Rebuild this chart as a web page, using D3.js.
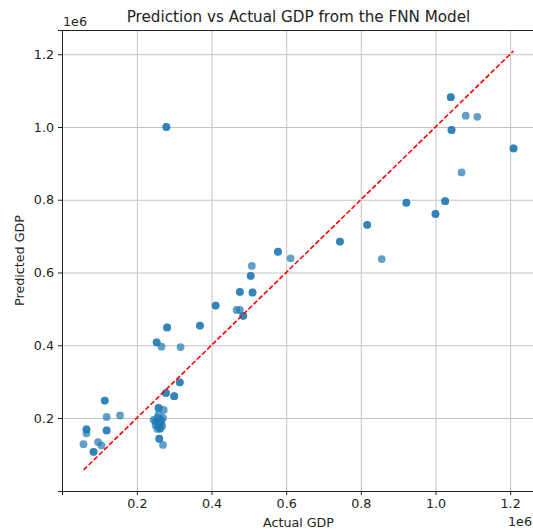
<!DOCTYPE html>
<html>
<head>
<meta charset="utf-8">
<script src="https://cdn.jsdelivr.net/npm/d3@7"></script>
<style>
  body { margin: 0; background: #fff; }
  svg { font-family: 'DejaVu Sans', sans-serif; }
</style>
</head>
<body>
<div></div>
<script>
var actual = [
  279000, 279000, 1041000, 1041000, 1081000, 1112000, 1043000, 1043000, 1209000, 1209000,
  1070000, 922000, 922000, 1026000, 1026000, 1000000, 1000000, 856000, 817000, 817000,
  744000, 744000, 578000, 578000, 612000, 508000, 505000, 505000, 476000, 476000,
  510000, 510000, 411000, 411000, 467000, 476000, 485000, 485000, 369000, 369000,
  281000, 281000, 253000, 253000, 266000, 317000, 315000, 315000, 278000, 278000,
  300000, 300000, 258000, 258000, 272000, 262000, 262000, 260000, 260000, 270000,
  114000, 114000, 119000, 155000, 65000, 65000, 65000, 119000, 119000, 57000,
  96000, 105000, 84000, 84000,
  245000, 250000, 255000, 260000, 265000, 270000, 260000, 250000, 255000, 265000, 258000, 268000
];
var predicted = [
  1000000, 1000000, 1082000, 1082000, 1031000, 1028000, 992000, 992000, 941000, 941000,
  875000, 792000, 792000, 796000, 796000, 761000, 761000, 637000, 731000, 731000,
  685000, 685000, 657000, 657000, 639000, 618000, 591000, 591000, 547000, 547000,
  545000, 545000, 509000, 509000, 497000, 497000, 481000, 481000, 454000, 454000,
  449000, 449000, 408000, 408000, 396000, 395000, 298000, 298000, 269000, 269000,
  260000, 260000, 228000, 228000, 222000, 171000, 171000, 143000, 143000, 126000,
  248000, 248000, 203000, 207000, 169000, 169000, 158000, 166000, 166000, 128000,
  134000, 125000, 107000, 107000,
  195000, 190000, 200000, 185000, 195000, 200000, 175000, 180000, 170000, 185000, 210000, 178000
];
var xTicks = [200000, 400000, 600000, 800000, 1000000, 1200000];
var yTicks = [200000, 400000, 600000, 800000, 1000000, 1200000];

var w = 533
var h = 530
var left = 62
var right = 535
var top_ = 30
var bottom = 491
var fs = '12.7px'

var svg = d3.select('div')
    .append('svg')
    .attr('width', w)
    .attr('height', h);

// limites como matplotlib: linea ideal + 5% de margen
var lineExt = d3.extent(actual);
var lo = Math.min(lineExt[0], d3.min(predicted));
var hi = Math.max(lineExt[1], d3.max(predicted));
var pad = (hi - lo) * 0.05;

var scaleX = d3.scaleLinear()
    .domain([lineExt[0] - (lineExt[1] - lineExt[0]) * 0.05, lineExt[1] + (lineExt[1] - lineExt[0]) * 0.05])
    .range([left, right]);
var scaleY = d3.scaleLinear()
    .domain([lo - pad, hi + pad])
    .range([bottom, top_]);

var fmt = (d) => (d / 1e6).toFixed(1);

// rejilla
svg.append('g')
    .attr('transform', 'translate(0,' + bottom + ')')
    .call(d3.axisBottom(scaleX).tickValues(xTicks).tickSize(-(bottom - top_)).tickFormat(''))
    .call(g => g.select('.domain').remove())
    .selectAll('line').attr('stroke', '#c4c4c4').attr('stroke-width', 1);
svg.append('g')
    .attr('transform', 'translate(' + left + ',0)')
    .call(d3.axisLeft(scaleY).tickValues(yTicks).tickSize(-(right - left)).tickFormat(''))
    .call(g => g.select('.domain').remove())
    .selectAll('line').attr('stroke', '#c4c4c4').attr('stroke-width', 1);

// puntos
var pts = actual.map((a, i) => ({ a: a, p: predicted[i] }));
svg.append('g')
    .selectAll('circle')
    .data(pts)
    .enter()
    .append('circle')
    .attr('cx', (d) => scaleX(d.a))
    .attr('cy', (d) => scaleY(d.p))
    .attr('r', 3.9)
    .attr('fill', '#1f77b4')
    .attr('fill-opacity', 0.7);

// linea ideal y = x
svg.append('line')
    .attr('x1', scaleX(lineExt[0]))
    .attr('y1', scaleY(lineExt[0]))
    .attr('x2', scaleX(lineExt[1]))
    .attr('y2', scaleY(lineExt[1]))
    .attr('stroke', 'red')
    .attr('stroke-width', 1.6)
    .attr('stroke-dasharray', '5,2.2');

// ejes
var xaxis = svg.append('g')
    .attr('transform', 'translate(0,' + bottom + ')')
    .call(d3.axisBottom(scaleX).tickValues(xTicks).tickSize(4).tickPadding(4).tickFormat(fmt));
var yaxis = svg.append('g')
    .attr('transform', 'translate(' + left + ',0)')
    .call(d3.axisLeft(scaleY).tickValues(yTicks).tickSize(4).tickPadding(4).tickFormat(fmt));
[xaxis, yaxis].forEach((g) => {
    g.selectAll('text').attr('font-size', fs).attr('fill', '#222').attr('font-family', 'DejaVu Sans');
    g.selectAll('line').attr('stroke', '#222');
    g.select('.domain').attr('stroke', '#222');
});

// marcos superior y derecho
svg.append('line').attr('x1', left).attr('x2', right).attr('y1', top_ + 0.5).attr('y2', top_ + 0.5).attr('stroke', '#222');
svg.append('line').attr('x1', right).attr('x2', right).attr('y1', top_).attr('y2', bottom).attr('stroke', '#222');

// textos
svg.append('text')
    .attr('x', (left + right) / 2)
    .attr('y', 22)
    .attr('text-anchor', 'middle')
    .attr('font-size', '15.2px')
    .attr('fill', '#222')
    .text('Prediction vs Actual GDP from the FNN Model');
svg.append('text')
    .attr('x', left + 1)
    .attr('y', 25.5)
    .attr('font-size', fs)
    .attr('fill', '#222')
    .text('1e6');
svg.append('text')
    .attr('x', 532)
    .attr('y', 526)
    .attr('text-anchor', 'end')
    .attr('font-size', fs)
    .attr('fill', '#222')
    .text('1e6');
svg.append('text')
    .attr('x', (left + right) / 2)
    .attr('y', 526.5)
    .attr('text-anchor', 'middle')
    .attr('font-size', fs)
    .attr('fill', '#222')
    .text('Actual GDP');
svg.append('text')
    .attr('transform', 'translate(24,' + (top_ + bottom) / 2 + ') rotate(-90)')
    .attr('text-anchor', 'middle')
    .attr('font-size', fs)
    .attr('fill', '#222')
    .text('Predicted GDP');
</script>
</body>
</html>
